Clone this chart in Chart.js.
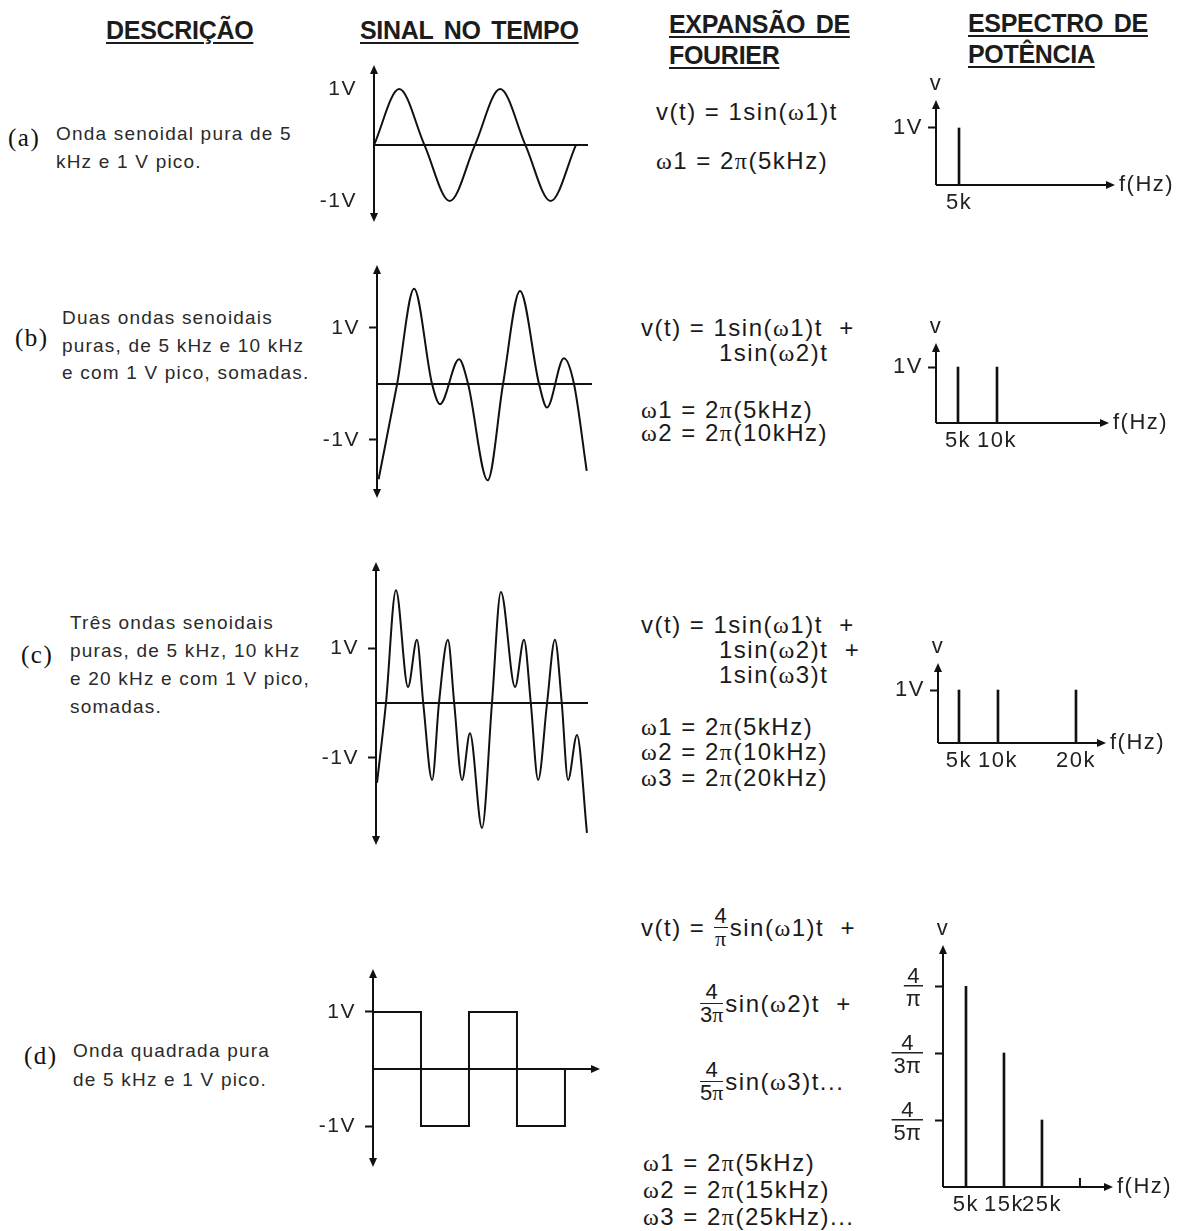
<!DOCTYPE html>
<html lang="pt">
<head>
<meta charset="utf-8">
<title>Sinal no tempo e espectro de potência</title>
<script src="https://cdn.jsdelivr.net/npm/chart.js@4.4.1/dist/chart.umd.min.js"></script>
<style>
  html, body { margin: 0; padding: 0; background: #fff; }
  #page { position: relative; width: 1185px; height: 1231px; overflow: hidden;
          font-family: 'Liberation Sans', Arial, sans-serif; color: #222; }
  .abs { position: absolute; white-space: pre; }
  .head { font-size: 25px; font-weight: bold; line-height: 31px; letter-spacing: -0.3px; word-spacing: 4px;
          text-decoration: underline; text-decoration-thickness: 2px; text-underline-offset: 3px; color: #1c1c1c; }
  .tag { font-family: 'Liberation Serif', serif; font-size: 25px; line-height: 28px; letter-spacing: 1.5px; color: #111; }
  .desc { font-size: 19px; line-height: 27.5px; letter-spacing: 1.2px; color: #2a2a2a; }
  .eq { font-size: 24px; line-height: 26px; letter-spacing: 1.5px; color: #1a1a1a; }
  .g { font-family: 'Liberation Serif', serif; }
  .row { display: flex; align-items: center; }
  .frac { display: inline-flex; flex-direction: column; text-align: center; font-size: 22px;
          line-height: 20px; margin-right: 2px; letter-spacing: 0; }
  .frac .num { border-bottom: 1.5px solid #222; padding: 0 1px 1px; }
  .frac .den { padding-top: 1px; }
  canvas { position: absolute; }
</style>
</head>
<body>
<div id="page">
  <!-- column headers -->
  <div class="abs head" style="left:106px;top:15px">DESCRIÇÃO</div>
  <div class="abs head" style="left:360px;top:15px">SINAL NO TEMPO</div>
  <div class="abs head" style="left:669px;top:9px">EXPANSÃO DE
FOURIER</div>
  <div class="abs head" style="left:968px;top:8px">ESPECTRO DE
POTÊNCIA</div>

  <!-- (a) -->
  <div class="abs tag" style="left:8px;top:124px">(a)</div>
  <div class="abs desc" style="left:56px;top:120px">Onda senoidal pura de 5
kHz e 1 V pico.</div>
  <div class="abs eq" style="left:656px;top:99px">v(t) = 1sin(<span class="g">ω</span>1)t</div>
  <div class="abs eq" style="left:656px;top:148px"><span class="g">ω</span>1 = 2<span class="g">π</span>(5kHz)</div>

  <!-- (b) -->
  <div class="abs tag" style="left:15px;top:324px">(b)</div>
  <div class="abs desc" style="left:62px;top:304px">Duas ondas senoidais
puras, de 5 kHz e 10 kHz
e com 1 V pico, somadas.</div>
  <div class="abs eq" style="left:641px;top:315px">v(t) = 1sin(<span class="g">ω</span>1)t  +</div>
  <div class="abs eq" style="left:719px;top:340px">1sin(<span class="g">ω</span>2)t</div>
  <div class="abs eq" style="left:641px;top:397px"><span class="g">ω</span>1 = 2<span class="g">π</span>(5kHz)</div>
  <div class="abs eq" style="left:641px;top:420px"><span class="g">ω</span>2 = 2<span class="g">π</span>(10kHz)</div>

  <!-- (c) -->
  <div class="abs tag" style="left:21px;top:641px">(c)</div>
  <div class="abs desc" style="left:70px;top:609px;line-height:28px">Três ondas senoidais
puras, de 5 kHz, 10 kHz
e 20 kHz e com 1 V pico,
somadas.</div>
  <div class="abs eq" style="left:641px;top:612px">v(t) = 1sin(<span class="g">ω</span>1)t  +</div>
  <div class="abs eq" style="left:719px;top:637px">1sin(<span class="g">ω</span>2)t  +</div>
  <div class="abs eq" style="left:719px;top:662px">1sin(<span class="g">ω</span>3)t</div>
  <div class="abs eq" style="left:641px;top:714px"><span class="g">ω</span>1 = 2<span class="g">π</span>(5kHz)</div>
  <div class="abs eq" style="left:641px;top:739px"><span class="g">ω</span>2 = 2<span class="g">π</span>(10kHz)</div>
  <div class="abs eq" style="left:641px;top:765px"><span class="g">ω</span>3 = 2<span class="g">π</span>(20kHz)</div>

  <!-- (d) -->
  <div class="abs tag" style="left:24px;top:1042px">(d)</div>
  <div class="abs desc" style="left:73px;top:1036px;line-height:29px">Onda quadrada pura
de 5 kHz e 1 V pico.</div>
  <div class="abs eq row" style="left:641px;top:906px">v(t) = <span class="frac"><span class="num">4</span><span class="den g">π</span></span>sin(<span class="g">ω</span>1)t  +</div>
  <div class="abs eq row" style="left:700px;top:982px"><span class="frac"><span class="num">4</span><span class="den">3<span class="g">π</span></span></span>sin(<span class="g">ω</span>2)t  +</div>
  <div class="abs eq row" style="left:700px;top:1060px"><span class="frac"><span class="num">4</span><span class="den">5<span class="g">π</span></span></span>sin(<span class="g">ω</span>3)t...</div>
  <div class="abs eq" style="left:643px;top:1150px"><span class="g">ω</span>1 = 2<span class="g">π</span>(5kHz)</div>
  <div class="abs eq" style="left:643px;top:1177px"><span class="g">ω</span>2 = 2<span class="g">π</span>(15kHz)</div>
  <div class="abs eq" style="left:643px;top:1204px"><span class="g">ω</span>3 = 2<span class="g">π</span>(25kHz)...</div>

  <!-- plots -->
  <canvas id="waveA" width="286" height="169" style="left:314px;top:59px"></canvas>
  <canvas id="waveB" width="287" height="245" style="left:317px;top:259px"></canvas>
  <canvas id="waveC" width="284" height="295" style="left:316px;top:556px"></canvas>
  <canvas id="waveD" width="299" height="210" style="left:313px;top:963px"></canvas>
  <canvas id="specA" width="309" height="149" style="left:876px;top:70px"></canvas>
  <canvas id="specB" width="303" height="144" style="left:876px;top:313px"></canvas>
  <canvas id="specC" width="298" height="144" style="left:878px;top:633px"></canvas>
  <canvas id="specD" width="300" height="306" style="left:883px;top:915px"></canvas>
</div>

<script>
// y ticks of the time plots (V)
const voltTicks = [-1, 1];

// (a) pure 5 kHz sine: time in µs, voltage in V
const tA = [0, 50, 100, 150, 200, 250, 300, 350, 400];
const vA = [0, 1, 0, -1, 0, 1, 0, -1, 0];

// (b) 5 kHz + 10 kHz: extremes and zero crossings
const tB = [3, 38, 70, 104, 119, 155, 172, 209, 238, 270, 306, 321, 353, 372, 396];
const vB = [-1.70, 0, 1.70, 0, -0.36, 0.44, 0, -1.72, 0, 1.66, 0, -0.42, 0.46, 0, -1.55];

// (c) 5 kHz + 10 kHz + 20 kHz
const tC = [2, 19, 38, 61, 78, 90, 107, 120, 137, 149, 164, 179, 202, 221, 238,
            265, 282, 295, 309, 326, 341, 354, 366, 383, 402];
const vC = [-1.45, 0, 2.05, 0.29, 1.15, 0, -1.40, 0, 1.15, 0, -1.40, -0.55, -2.27, 0, 2.02,
            0.29, 1.15, 0, -1.40, 0, 1.15, 0, -1.40, -0.58, -2.36];

// (d) square wave, level held until the next edge
const tD = [0, 100, 200, 300, 400];
const vD = [1, -1, 1, -1, 0];

// spectra: frequency in kHz, amplitude
const fA = [5];
const sA = [1];
const fB = [5, 10];
const sB = [1, 1];
const fC = [5, 10, 20];
const sC = [1, 1, 1];
const fD = [5, 15, 25];
const sD = ['4/π', '4/3π', '4/5π'];
const levelsD = ['0', '4/5π', '4/3π', '4/π'];
const tailD = [35];

Chart.defaults.font.family = "'Liberation Sans', Arial, sans-serif";
Chart.defaults.font.size = 21;
Chart.defaults.color = '#222';

const INK = '#111';
const FONT = "22px 'Liberation Sans', Arial, sans-serif";

// canvas text a bit wider, like the rest of the sheet
const spacing = {
  id: 'spacing',
  beforeLayout(chart) { chart.ctx.letterSpacing = '1.5px'; },
  beforeDraw(chart) { chart.ctx.letterSpacing = '1.5px'; }
};

// keep the plot area exactly where the layout puts it
function noLabelPadding(s) {
  s.paddingTop = 0;
  s.paddingBottom = 0;
  s.paddingLeft = 0;
  s.paddingRight = 0;
}

function arrowHead(ctx, x, y, dir) {
  const L = 9, W = 4;
  ctx.beginPath();
  ctx.moveTo(x, y);
  if (dir === 'up') { ctx.lineTo(x - W, y + L); ctx.lineTo(x + W, y + L); }
  else if (dir === 'down') { ctx.lineTo(x - W, y - L); ctx.lineTo(x + W, y - L); }
  else { ctx.lineTo(x - L, y - W); ctx.lineTo(x - L, y + W); }
  ctx.closePath();
  ctx.fill();
}

// axes through the origin with arrow heads, axis names and fraction labels
const axisArrows = {
  id: 'axisArrows',
  afterDatasetsDraw(chart, args, o) {
    const { ctx, chartArea: a, scales: { x, y } } = chart;
    const x0 = a.left;
    const y0 = y.getPixelForValue(0);
    const top = a.top - (o.yExtra || 0);
    ctx.save();
    ctx.strokeStyle = INK;
    ctx.fillStyle = INK;
    ctx.lineWidth = 2;
    ctx.beginPath();
    ctx.moveTo(x0, o.both ? a.bottom - 4 : y0);
    ctx.lineTo(x0, top + 4);
    ctx.moveTo(x0, y0);
    ctx.lineTo(o.xArrow ? a.right - 4 : a.right, y0);
    (o.tail || []).forEach(f => {
      const px = x.getPixelForValue(f);
      ctx.moveTo(px, y0);
      ctx.lineTo(px, y0 - 9);
    });
    ctx.stroke();
    arrowHead(ctx, x0, top, 'up');
    if (o.both) arrowHead(ctx, x0, a.bottom, 'down');
    if (o.xArrow) arrowHead(ctx, a.right, y0, 'right');

    ctx.font = FONT;
    ctx.fillStyle = '#222';
    ctx.letterSpacing = '1.5px';
    ctx.textBaseline = 'middle';
    if (o.yTitle) { ctx.textAlign = 'center'; ctx.fillText(o.yTitle, x0, top - 16); }
    if (o.xTitle) { ctx.textAlign = 'left'; ctx.fillText(o.xTitle, a.right + 4, y0); }

    if (o.fractions) {
      ctx.letterSpacing = '0px';
      ctx.textAlign = 'center';
      ctx.textBaseline = 'alphabetic';
      y.ticks.forEach(t => {
        const [num, den] = y.getLabelForValue(t.value).split('/');
        const py = y.getPixelForValue(t.value);
        const w = Math.max(ctx.measureText(num).width, ctx.measureText(den).width) + 4;
        const cx = x0 - 20 - w / 2;
        ctx.fillText(num, cx, py - 3);
        ctx.fillText(den, cx, py + 20);
        ctx.fillRect(cx - w / 2, py - 1, w, 1.5);
      });
    }
    ctx.restore();
  }
};

function waveChart(id, t, v, box, extra = {}) {
  return new Chart(document.getElementById(id), {
    type: 'line',
    data: {
      datasets: [{
        data: t.map((ti, i) => ({ x: ti, y: v[i] })),
        borderColor: INK,
        borderWidth: 2,
        pointRadius: 0,
        cubicInterpolationMode: extra.stepped ? 'default' : 'monotone',
        stepped: extra.stepped || false
      }]
    },
    options: {
      responsive: false,
      animation: false,
      devicePixelRatio: 1,
      events: [],
      layout: { autoPadding: false, padding: { top: 6, bottom: 6, left: 0, right: 12 } },
      scales: {
        x: { type: 'linear', display: false, min: 0, max: box.tMax },
        y: {
          min: box.vMin,
          max: box.vMax,
          afterBuildTicks: s => { s.ticks = voltTicks.map(value => ({ value })); },
          afterFit: s => { s.width = 60; noLabelPadding(s); },
          ticks: { callback: val => val + 'V', padding: 9 },
          grid: { drawOnChartArea: false, tickLength: 8, tickWidth: 2, tickColor: extra.tickColor || INK },
          border: { display: false }
        }
      },
      plugins: {
        legend: { display: false },
        tooltip: { enabled: false },
        axisArrows: { both: true, xArrow: !!extra.xArrow }
      }
    },
    plugins: [spacing, axisArrows]
  });
}

function spectrumChart(id, f, s, box, extra = {}) {
  const yScale = extra.levels ? {
    type: 'category',
    labels: extra.levels,
    reverse: true,
    offset: false,
    afterBuildTicks: sc => { sc.ticks = sc.ticks.filter(t => t.value > 0); },
    afterFit: sc => { sc.width = 60; noLabelPadding(sc); },
    ticks: { display: false },
    grid: { drawOnChartArea: false, tickLength: 8, tickWidth: 2, tickColor: INK },
    border: { display: false }
  } : {
    min: 0,
    max: box.vMax,
    afterBuildTicks: sc => { sc.ticks = [...new Set(s)].map(value => ({ value })); },
    afterFit: sc => { sc.width = 60; noLabelPadding(sc); },
    ticks: { callback: val => val + 'V', padding: 5, font: { size: 22 } },
    grid: { drawOnChartArea: false, tickLength: 8, tickWidth: 2, tickColor: INK },
    border: { display: false }
  };

  return new Chart(document.getElementById(id), {
    type: 'bar',
    data: {
      datasets: [{
        data: f.map((fi, i) => ({ x: fi, y: s[i] })),
        backgroundColor: INK,
        barThickness: 2
      }]
    },
    options: {
      responsive: false,
      animation: false,
      devicePixelRatio: 1,
      events: [],
      layout: { autoPadding: false, padding: { top: box.padTop, right: 70, left: 0, bottom: 0 } },
      scales: {
        x: {
          type: 'linear',
          min: box.fMin,
          max: box.fMax,
          offset: false,
          afterBuildTicks: sc => { sc.ticks = f.map(value => ({ value })); },
          afterFit: sc => { sc.height = 34; noLabelPadding(sc); },
          ticks: { callback: val => val + 'k', padding: 5, autoSkip: false, maxRotation: 0, font: { size: 22 } },
          grid: { display: false, drawTicks: false },
          border: { display: false }
        },
        y: yScale
      },
      plugins: {
        legend: { display: false },
        tooltip: { enabled: false },
        axisArrows: {
          xArrow: true,
          yTitle: 'v',
          xTitle: 'f(Hz)',
          yExtra: extra.yExtra || 0,
          tail: extra.tail,
          fractions: !!extra.levels
        }
      }
    },
    plugins: [spacing, axisArrows]
  });
}

waveChart('waveA', tA, vA, { tMax: 424, vMin: -1.375, vMax: 1.43 }, { tickColor: 'rgba(0,0,0,0)' });
waveChart('waveB', tB, vB, { tMax: 406, vMin: -2.036, vMax: 2.125 });
waveChart('waveC', tC, vC, { tMax: 404, vMin: -2.582, vMax: 2.564 });
waveChart('waveD', tD, vD, { tMax: 473, vMin: -1.719, vMax: 1.754 }, { stepped: true, xArrow: true });

spectrumChart('specA', fA, sA, { padTop: 30, vMax: 1.491, fMin: 2.05, fMax: 25.0 });
spectrumChart('specB', fB, sB, { padTop: 30, vMax: 1.43, fMin: 2.18, fMax: 24.36 });
spectrumChart('specC', fC, sC, { padTop: 30, vMax: 1.51, fMin: 2.31, fMax: 23.85 });
spectrumChart('specD', fD, sD, { padTop: 71, fMin: -1.05, fMax: 43.7 },
  { levels: levelsD, yExtra: 41, tail: tailD });
</script>
</body>
</html>
